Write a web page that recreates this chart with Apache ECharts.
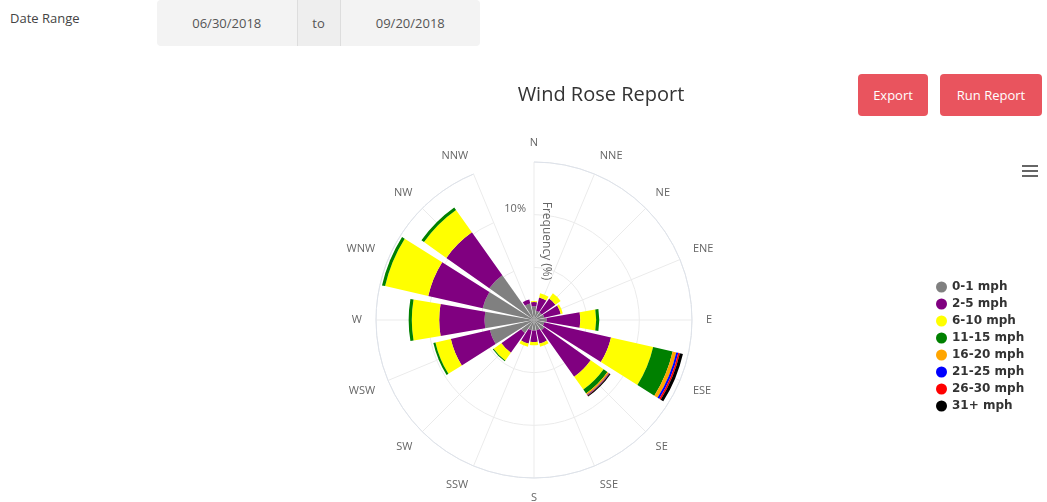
<!DOCTYPE html>
<html>
<head>
<meta charset="utf-8">
<script src="https://cdn.jsdelivr.net/npm/echarts@6.0.0/dist/echarts.min.js"></script>
<style>
    body { margin: 0; background: #fff; font-family: "Open Sans", sans-serif; width: 1047px; height: 502px; overflow: hidden; position: relative; }
    .lbl { position: absolute; left: 10px; top: 9px; font-size: 13px; color: #444; }
    .range { position: absolute; left: 157px; top: 0; width: 323px; height: 46px; background: #f3f3f3; border-radius: 4px; display: flex; font-size: 13px; color: #555; }
    .range div { display: flex; align-items: center; justify-content: center; }
    .range .d { flex: 1; }
    .range .to { width: 42px; background: #eee; border-left: 1px solid #ddd; border-right: 1px solid #ddd; }
    .btn { position: absolute; top: 74px; height: 42px; background: #e9545e; color: #fff; border-radius: 4px; font-size: 13px; display: flex; align-items: center; justify-content: center; }
    .menu { position: absolute; left: 1022px; top: 165px; width: 16px; }
    .menu div { height: 2px; background: #666; margin-bottom: 3px; }
    #chart { position: absolute; left: 155px; top: 65px; width: 892px; height: 437px; }
</style>
</head>
<body>
<div class="lbl">Date Range</div>
<div class="range">
    <div class="d">06/30/2018</div>
    <div class="to">to</div>
    <div class="d">09/20/2018</div>
</div>
<div id="chart"></div>
<div class="btn" style="left:858px;width:70px;">Export</div>
<div class="btn" style="left:940px;width:102px;">Run Report</div>
<div class="menu"><div></div><div></div><div></div></div>

<script>
// directions, clockwise from north
const directions = ['N', 'NNE', 'NE', 'ENE', 'E', 'ESE', 'SE', 'SSE', 'S', 'SSW', 'SW', 'WSW', 'W', 'WNW', 'NW', 'NNW'];

// frequency (%) per direction for each speed band
const speed0to1   = [1.3, 0.9, 0.9, 1.0, 1.2, 1.0, 1.2, 1.0, 1.0, 1.0, 1.5, 4.3, 4.7, 5.0, 5.2, 1.6];
const speed2to5   = [0.4, 1.3, 1.6, 1.6, 3.2, 6.5, 5.4, 1.3, 1.1, 1.3, 2.3, 3.8, 4.3, 5.3, 5.0, 0.4];
const speed6to10  = [0.1, 0.4, 0.6, 0.2, 1.5, 4.1, 1.5, 0.3, 0.3, 0.3, 0.9, 1.5, 2.6, 4.2, 2.6, 0.0];
const speed11to15 = [0, 0, 0, 0, 0.3, 1.9, 0.45, 0, 0, 0, 0.1, 0.2, 0.3, 0.3, 0.3, 0];
const speed16to20 = [0, 0, 0, 0, 0, 0.35, 0.15, 0, 0, 0, 0, 0, 0, 0, 0, 0];
const speed21to25 = [0, 0, 0, 0, 0, 0.2, 0.05, 0, 0, 0, 0, 0, 0, 0, 0, 0];
const speed26to30 = [0, 0, 0, 0, 0, 0.15, 0.05, 0, 0, 0, 0, 0, 0, 0, 0, 0];
const speed31plus = [0, 0, 0, 0, 0, 0.3, 0.1, 0, 0, 0, 0, 0, 0, 0, 0, 0];

const bandNames = ['0-1 mph', '2-5 mph', '6-10 mph', '11-15 mph', '16-20 mph', '21-25 mph', '26-30 mph', '31+ mph'];
const bandData = [speed0to1, speed2to5, speed6to10, speed11to15, speed16to20, speed21to25, speed26to30, speed31plus];
const bandColors = ['#808080', '#800080', '#ffff00', '#008000', '#ffa500', '#0000ff', '#ff0000', '#000000'];

const chart = echarts.init(document.getElementById('chart'), null, { renderer: 'canvas' });

const series = bandNames.map((name, i) => ({
    name: name,
    type: 'bar',
    coordinateSystem: 'polar',
    stack: 'speed',
    data: bandData[i],
    barCategoryGap: '14%',
    itemStyle: { color: bandColors[i] },
    emphasis: { disabled: true }
}));

chart.setOption({
    animation: false,
    textStyle: { fontFamily: 'Open Sans' },
    title: {
        text: 'Wind Rose Report',
        left: 'center',
        top: 15,
        textStyle: { fontSize: 20, fontWeight: 'normal', color: '#333' }
    },
    legend: {
        orient: 'vertical',
        left: 776,
        top: 210,
        icon: 'circle',
        itemWidth: 11,
        itemHeight: 11,
        itemGap: 3,
        data: bandNames,
        textStyle: { fontFamily: 'DejaVu Sans', fontWeight: 'bold', fontSize: 12, color: '#333', lineHeight: 14 }
    },
    polar: {
        center: [379, 255],
        radius: [0, 158]
    },
    angleAxis: {
        type: 'category',
        data: directions,
        boundaryGap: false,
        startAngle: 90,
        clockwise: true,
        axisLine: { lineStyle: { color: '#dde2ea' } },
        axisTick: { show: false },
        axisLabel: { color: '#666', fontSize: 11, margin: 14 },
        splitLine: { show: true, lineStyle: { color: '#ebebeb' } }
    },
    radiusAxis: {
        min: 0,
        max: 15,
        interval: 5,
        axisLine: { show: false },
        axisTick: { show: false },
        axisLabel: {
            color: '#666',
            fontSize: 11,
            verticalAlign: 'bottom',
            formatter: v => (v === 10 ? '10%' : '')
        },
        splitLine: { show: true, lineStyle: { color: '#ebebeb' } },
        name: 'Frequency (%)',
        nameLocation: 'middle',
        nameGap: 6,
        nameRotate: -90,
        nameTextStyle: { color: '#666', fontSize: 12 }
    },
    series: series
});
</script>
</body>
</html>
